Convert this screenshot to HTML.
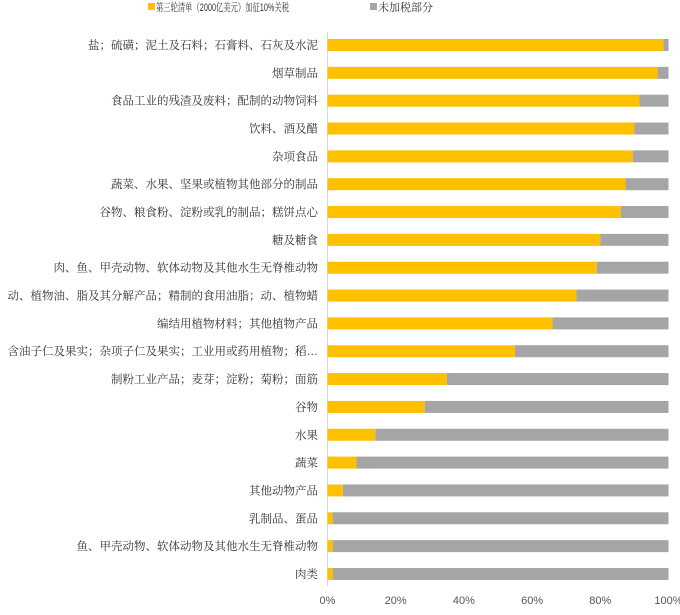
<!DOCTYPE html>
<html><head><meta charset="utf-8"><style>
body{margin:0;background:#fff;font-family:"Liberation Sans","Noto Serif CJK SC","Noto Sans CJK SC",serif;}
</style></head><body>
<svg width="680" height="610" xmlns="http://www.w3.org/2000/svg" id="chart">
<g>
<rect x="148" y="3" width="7" height="7" fill="#FFC000"/>
<text x="156" y="11" font-size="11" fill="#333" textLength="133" lengthAdjust="spacingAndGlyphs">第三轮清单（2000亿美元）加征10%关税</text>
<rect x="370" y="3" width="7" height="7" fill="#A5A5A5"/>
<text x="378" y="11" font-size="11" fill="#333">未加税部分</text>
</g>
<line x1="327.5" y1="32" x2="327.5" y2="586" stroke="#D9D9D9"/>
<g id="bars"></g><g id="labels"></g><g id="ticks"></g>
</svg>
<script>
const categories=["盐；硫磺；泥土及石料；石膏料、石灰及水泥","烟草制品","食品工业的残渣及废料；配制的动物饲料","饮料、酒及醋","杂项食品","蔬菜、水果、坚果或植物其他部分的制品","谷物、粮食粉、淀粉或乳的制品；糕饼点心","糖及糖食","肉、鱼、甲壳动物、软体动物及其他水生无脊椎动物","动、植物油、脂及其分解产品；精制的食用油脂；动、植物蜡","编结用植物材料；其他植物产品","含油子仁及果实；杂项子仁及果实；工业用或药用植物；稻…","制粉工业产品；麦芽；淀粉；菊粉；面筋","谷物","水果","蔬菜","其他动物产品","乳制品、蛋品","鱼、甲壳动物、软体动物及其他水生无脊椎动物","肉类"];
const taxedValues=[98.5,96.8,91.5,90,89.5,87.4,86,80,79,73,66,55,35,28.5,14,8.5,4.5,1.5,1.5,1.5];
const tickLabels=["0%","20%","40%","60%","80%","100%"];
const tickValues=[0,20,40,60,80,100];
const NS="http://www.w3.org/2000/svg";
const x0=327.5,x1=668.5,yTop=45,step=27.84,bh=12;
const xs=v=>x0+(x1-x0)*v/100;
const ys=i=>yTop+i*step;
const bars=document.getElementById('bars'),labels=document.getElementById('labels'),ticks=document.getElementById('ticks');
function mk(tag,a){const e=document.createElementNS(NS,tag);for(const k in a)e.setAttribute(k,a[k]);return e;}
categories.forEach((c,i)=>{
 const v=taxedValues[i];const y=ys(i)-bh/2;
 const r1=mk('rect',{x:xs(0),y:y,width:xs(v)-xs(0),height:bh,fill:'#FFC000'});
 
 
 bars.appendChild(r1);
 const r2=mk('rect',{x:xs(v),y:y,width:xs(100)-xs(v),height:bh,fill:'#A5A5A5'});
 
 
 bars.appendChild(r2);
 const t=mk('text',{x:318,y:ys(i)+4,'text-anchor':'end','font-size':'11.5',fill:'#333'});
 t.textContent=c;
 
 
 labels.appendChild(t);
});
tickValues.forEach((v,i)=>{
 const t=mk('text',{x:xs(v),y:604,'text-anchor':'middle','font-size':'11',fill:'#555'});
 t.textContent=tickLabels[i];
 
 
 ticks.appendChild(t);
});
</script>
</body></html>
